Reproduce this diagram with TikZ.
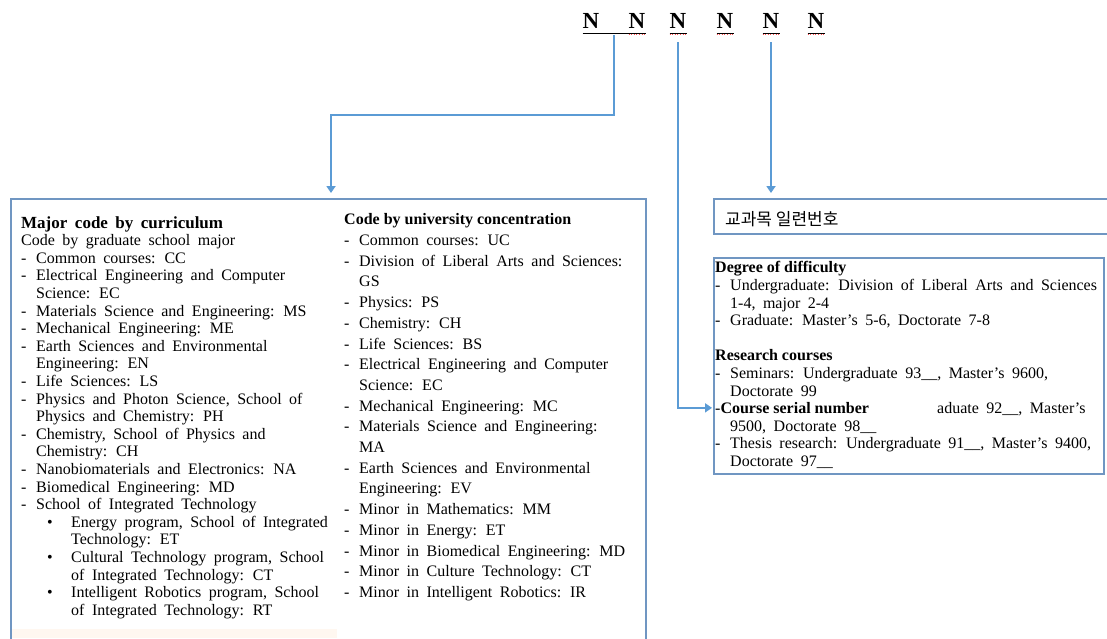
\documentclass[tikz,border=0pt]{standalone}
\usepackage{fontspec}
\setmainfont{Liberation Serif}
\newfontfamily\korfont{Noto Sans CJK KR}
\usetikzlibrary{arrows.meta,positioning,calc}
\definecolor{LinkBlue}{HTML}{5B9BD5}
\definecolor{FrameBlue}{HTML}{7096C2}
\definecolor{Peach}{HTML}{FFF7F0}
\newcommand\itemdash{\makebox[15pt][l]{-}}
\newcommand\itemcont{\hspace*{15pt}}
\newcommand\itembul{\hspace*{26pt}\makebox[24pt][l]{\textbullet}}
\newcommand\bulcont{\hspace*{50pt}}

\begin{document}
\begin{tikzpicture}[x=1pt,y=-1pt,
    frame/.style={draw=FrameBlue,line width=2pt,inner sep=0pt,anchor=north west},
    link/.style={draw=LinkBlue,line width=2.2pt,-{Triangle[length=7pt,width=9pt]}},
    digit/.style={font=\fontsize{23}{23}\selectfont\bfseries,inner sep=0pt,anchor=base},
    body/.style={align=left,inner sep=0pt,anchor=north west,
      font={\fontsize{16}{17.6}\selectfont\spaceskip=7.5pt plus 2pt minus 1pt}}
  ]
  \path[use as bounding box,fill=white] (0,0) rectangle (1107,638);

  % code digits
  \node[digit] (n1) at (591,28) {N};
  \node[digit] (n2) at (637,28) {N};
  \node[digit] (n3) at (678,28) {N};
  \node[digit] (n4) at (725,28) {N};
  \node[digit] (n5) at (771,28) {N};
  \node[digit] (n6) at (816,28) {N};
  \draw[line width=0.8pt] ([yshift=-5pt]n1.base west) -- ([yshift=-5pt]n2.base east);
  \foreach \k in {3,...,6}
    \draw[line width=0.8pt] ([yshift=-5pt]n\k.base west) -- ([yshift=-5pt]n\k.base east);
  \foreach \k in {2,...,6}
    \draw[red!70,line width=0.6pt,dotted] ([yshift=-6.5pt]n\k.base west) -- ([yshift=-6.5pt]n\k.base east);

  % boxes
  \node[frame,minimum width=635pt,minimum height=460pt] (majorbox) at (10,198) {};
  \fill[Peach] (12,629) rectangle (337,638);
  \node[frame,minimum width=420pt,minimum height=35pt] (korbox) at (713,198) {};
  \node[frame,minimum width=390pt,minimum height=216pt] (degbox) at (713,257) {};

  \node[body] (majortext) at (21,216) {%
    {\fontsize{17}{17.6}\selectfont\bfseries Major code by curriculum}\\
    Code by graduate school major\\
    \itemdash Common courses: CC\\
    \itemdash Electrical Engineering and Computer\\
    \itemcont Science: EC\\
    \itemdash Materials Science and Engineering: MS\\
    \itemdash Mechanical Engineering: ME\\
    \itemdash Earth Sciences and Environmental\\
    \itemcont Engineering: EN\\
    \itemdash Life Sciences: LS\\
    \itemdash Physics and Photon Science, School of\\
    \itemcont Physics and Chemistry: PH\\
    \itemdash Chemistry, School of Physics and\\
    \itemcont Chemistry: CH\\
    \itemdash Nanobiomaterials and Electronics: NA\\
    \itemdash Biomedical Engineering: MD\\
    \itemdash School of Integrated Technology\\
    \itembul Energy program, School of Integrated\\
    \bulcont Technology: ET\\
    \itembul Cultural Technology program, School\\
    \bulcont of Integrated Technology: CT\\
    \itembul Intelligent Robotics program, School\\
    \bulcont of Integrated Technology: RT};

  \node[body,font={\fontsize{16}{20.7}\selectfont\spaceskip=7.5pt plus 2pt minus 1pt}]
    (unitext) at (344,213.5) {%
    {\bfseries\spaceskip=0pt Code by university concentration}\\
    \itemdash Common courses: UC\\
    \itemdash Division of Liberal Arts and Sciences:\\
    \itemcont GS\\
    \itemdash Physics: PS\\
    \itemdash Chemistry: CH\\
    \itemdash Life Sciences: BS\\
    \itemdash Electrical Engineering and Computer\\
    \itemcont Science: EC\\
    \itemdash Mechanical Engineering: MC\\
    \itemdash Materials Science and Engineering:\\
    \itemcont MA\\
    \itemdash Earth Sciences and Environmental\\
    \itemcont Engineering: EV\\
    \itemdash Minor in Mathematics: MM\\
    \itemdash Minor in Energy: ET\\
    \itemdash Minor in Biomedical Engineering: MD\\
    \itemdash Minor in Culture Technology: CT\\
    \itemdash Minor in Intelligent Robotics: IR};

  \node[anchor=west,inner sep=0pt,font=\korfont\fontsize{17}{17}\selectfont]
    (kortext) at (725,219) {교과목 일련번호};

  \node[body] (degtext) at (715,261.5) {%
    {\bfseries\spaceskip=0pt Degree of difficulty}\\
    \itemdash Undergraduate: Division of Liberal Arts and Sciences\\
    \itemcont 1-4, major 2-4\\
    \itemdash Graduate: Master’s 5-6, Doctorate 7-8\\[17.6pt]
    {\bfseries\spaceskip=0pt Research courses}\\
    \itemdash Seminars: Undergraduate 93\_\_, Master’s 9600,\\
    \itemcont Doctorate 99\\
    \hspace*{222pt}aduate 92\_\_, Master’s\\
    \itemcont 9500, Doctorate 98\_\_\\
    \itemdash Thesis research: Undergraduate 91\_\_, Master’s 9400,\\
    \itemcont Doctorate 97\_\_};
  \node[anchor=base west,inner sep=0pt,font=\fontsize{16}{17.6}\selectfont]
    (serial) at (715,413.3) {-\textbf{Course serial number}};

  % connectors
  \coordinate (majortap) at ($(n1.base)!.5!(n2.base)+(0,7)$);
  \draw[link] (majortap) -- ++(0,80) -| ($(majorbox.north west)+(321,-5)$);
  \draw[link,shorten >=3pt] ($(n3.base)+(0,14)$) |- (serial.west);
  \draw[link] ($(n5.base)+(0,14)$) -- ($(n5.base |- korbox.north)+(0,-5)$);
\end{tikzpicture}
\end{document}
